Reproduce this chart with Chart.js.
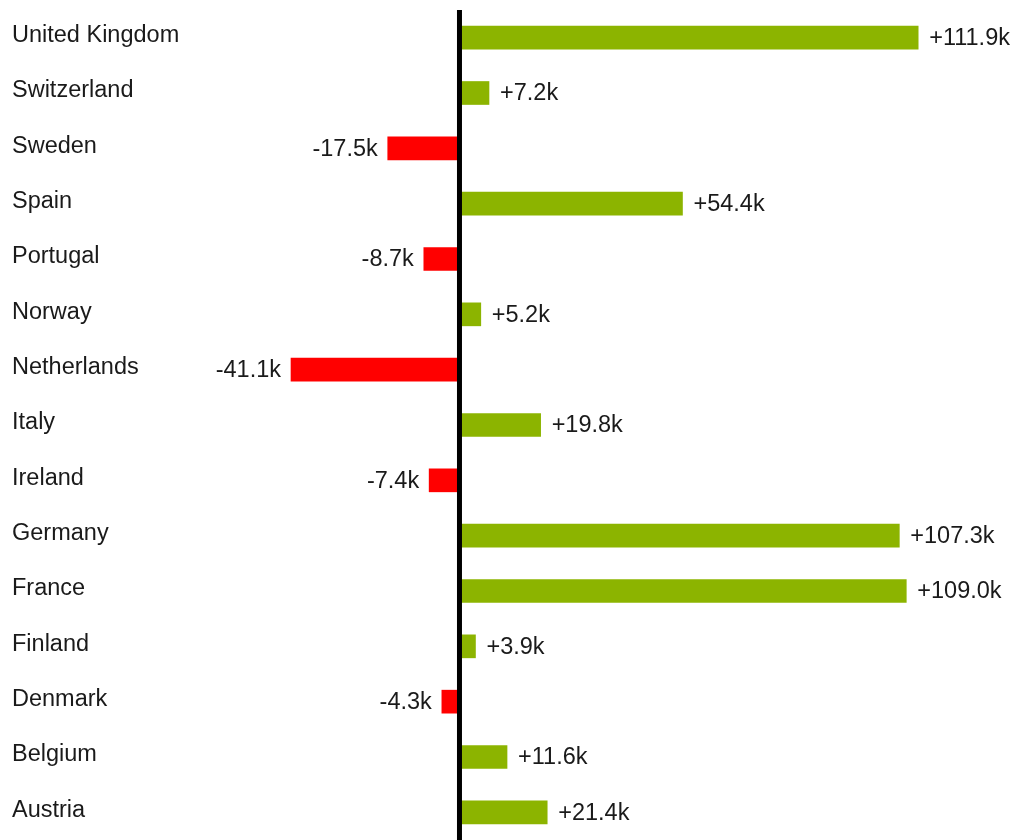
<!DOCTYPE html>
<html>
<head>
<meta charset="utf-8">
<title>Variance by country</title>
<script src="https://cdn.jsdelivr.net/npm/chart.js@4/dist/chart.umd.min.js"></script>
<style>
  html, body { margin: 0; padding: 0; background: #fff; }
  #wrap { width: 1018px; height: 840px; position: relative; }
</style>
</head>
<body>
<div id="wrap"><canvas id="chart"></canvas></div>
<script>
const countries = [
  'United Kingdom', 'Switzerland', 'Sweden', 'Spain', 'Portugal',
  'Norway', 'Netherlands', 'Italy', 'Ireland', 'Germany',
  'France', 'Finland', 'Denmark', 'Belgium', 'Austria'
];
// deltas in thousands
const deltas = [
  111.9, 7.2, -17.5, 54.4, -8.7,
  5.2, -41.1, 19.8, -7.4, 107.3,
  109.0, 3.9, -4.3, 11.6, 21.4
];

const POS = '#8cb400';
const NEG = '#ff0000';
const FONT = '"Liberation Sans", Arial, sans-serif';

const fmt = v => (v > 0 ? '+' : '') + v.toFixed(1) + 'k';

// black baseline at zero plus value labels beside each bar
const barLabels = {
  id: 'barLabels',
  afterDatasetsDraw(chart) {
    const { ctx, chartArea, scales } = chart;
    const x0 = scales.x.getPixelForValue(0);
    ctx.save();
    ctx.fillStyle = '#1a1a1a';
    ctx.font = '23.5px ' + FONT;
    ctx.textBaseline = 'middle';
    chart.getDatasetMeta(0).data.forEach((bar, i) => {
      const v = deltas[i];
      if (v >= 0) {
        ctx.textAlign = 'left';
        ctx.fillText(fmt(v), bar.x + 11, bar.y + 1);
      } else {
        ctx.textAlign = 'right';
        ctx.fillText(fmt(v), bar.x - 10, bar.y + 1);
      }
    });
    ctx.strokeStyle = '#000';
    ctx.lineWidth = 5;
    ctx.beginPath();
    ctx.moveTo(x0, chartArea.top);
    ctx.lineTo(x0, chartArea.bottom);
    ctx.stroke();
    ctx.restore();
  }
};

new Chart(document.getElementById('chart'), {
  type: 'bar',
  data: {
    labels: countries,
    datasets: [{
      data: deltas,
      backgroundColor: deltas.map(v => v >= 0 ? POS : NEG),
      barThickness: 23,
      borderWidth: 0
    }]
  },
  options: {
    indexAxis: 'y',
    responsive: true,
    maintainAspectRatio: false,
    animation: false,
    layout: { padding: { left: 12, right: 8, top: 10, bottom: 0 } },
    plugins: {
      legend: { display: false },
      tooltip: { enabled: false }
    },
    scales: {
      x: {
        display: false,
        min: -63.3,
        max: 134.3
      },
      y: {
        grid: { display: false },
        border: { display: false },
        afterFit(scale) {
          scale.width = 188;
          // rows run to the very top and bottom edges
          scale.paddingTop = 0;
          scale.paddingBottom = 0;
        },
        ticks: {
          crossAlign: 'far',
          labelOffset: -2,
          color: '#1a1a1a',
          font: { family: FONT, size: 23.5 }
        }
      }
    }
  },
  plugins: [barLabels]
});
</script>
</body>
</html>
